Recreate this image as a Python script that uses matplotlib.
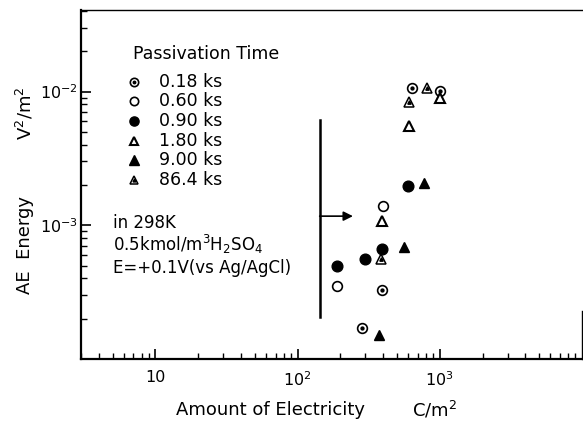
import matplotlib
matplotlib.use("Agg")
import matplotlib.pyplot as plt
from matplotlib.ticker import LogLocator, NullFormatter, FixedLocator, FixedFormatter

plt.rcParams['font.family'] = ['DejaVu Sans']
plt.rcParams['mathtext.fontset'] = 'dejavusans'

# ---- data ----
series_labels = ["0.18 ks", "0.60 ks", "0.90 ks", "1.80 ks", "9.00 ks", "86.4 ks"]
x_018 = [638, 1000, 393, 284]
y_018 = [1.06e-2, 1.01e-2, 3.3e-4, 1.70e-4]
x_060 = [399, 189]
y_060 = [1.39e-3, 3.5e-4]
x_090 = [593, 395, 297, 189]
y_090 = [1.95e-3, 6.6e-4, 5.55e-4, 5.0e-4]
x_180 = [608, 393, 1000]
y_180 = [5.48e-3, 1.07e-3, 8.9e-3]
x_900 = [774, 557, 372]
y_900 = [2.07e-3, 6.86e-4, 1.52e-4]
x_864 = [819, 608, 388]
y_864 = [1.06e-2, 8.4e-3, 5.64e-4]

xticks = [10, 100, 1000]
xticklabels = ["10", "$10^2$", "$10^3$"]
yticks = [1e-3, 1e-2]
yticklabels = ["$10^{-3}$", "$10^{-2}$"]

fig = plt.figure(figsize=(5.83, 4.22), dpi=100)
ax = fig.add_axes([81/583, 1-359/422, 501/583, 349/422])
ax.set_xscale('log')
ax.set_yscale('log')
ax.set_xlim(3, 1e4)
ax.set_ylim(1e-4, 4.07e-2)

ms = 7
mew = 1.2
def dotted_circle(xs, ys, size=ms, trans=None):
    kw = {} if trans is None else {'transform': trans}
    ax.plot(xs, ys, 'o', ms=size, mfc='white', mec='black', mew=mew, ls='none', clip_on=False, **kw)
    ax.plot(xs, ys, 'o', ms=size*0.3, mfc='black', mec='black', ls='none', clip_on=False, **kw)
def open_circle(xs, ys, size=ms, trans=None):
    kw = {} if trans is None else {'transform': trans}
    ax.plot(xs, ys, 'o', ms=size, mfc='white', mec='black', mew=mew, ls='none', clip_on=False, **kw)
def filled_circle(xs, ys, size=ms, trans=None):
    kw = {} if trans is None else {'transform': trans}
    ax.plot(xs, ys, 'o', ms=size*1.1, mfc='black', mec='black', ls='none', clip_on=False, **kw)
def open_tri(xs, ys, size=ms, trans=None):
    kw = {} if trans is None else {'transform': trans}
    ax.plot(xs, ys, '^', ms=size, mfc='white', mec='black', mew=mew+0.3, ls='none', clip_on=False, **kw)
def filled_tri(xs, ys, size=ms, trans=None):
    kw = {} if trans is None else {'transform': trans}
    ax.plot(xs, ys, '^', ms=size*1.1, mfc='black', mec='black', ls='none', clip_on=False, **kw)
def hatched_tri(xs, ys, size=ms, trans=None):
    kw = {} if trans is None else {'transform': trans}
    ax.plot(xs, ys, '^', ms=size, mfc='white', mec='black', mew=1.1, ls='none', clip_on=False, **kw)
    ax.plot(xs, ys, '^', ms=size*0.35, mfc='black', mec='black', ls='none', clip_on=False, **kw)

drawers = [dotted_circle, open_circle, filled_circle, open_tri, filled_tri, hatched_tri]
data = [(x_018, y_018), (x_060, y_060), (x_090, y_090), (x_180, y_180), (x_900, y_900), (x_864, y_864)]
for d, (xs, ys) in zip(drawers, data):
    d(xs, ys)

# vertical line with arrow
ax.plot([143, 143], [2.05e-4, 6.08e-3], color='black', lw=1.8)
ax.annotate('', xy=(245, 1.17e-3), xytext=(143, 1.17e-3),
            arrowprops=dict(arrowstyle='-|>', color='black', lw=1.2, mutation_scale=14,
                            shrinkA=0, shrinkB=0))

# legend (manual)
fs = 12.5
ax.text(0.104, 0.874, "Passivation Time", transform=ax.transAxes, fontsize=fs, va='center', ha='left')
for i, (d, lab) in enumerate(zip(drawers, series_labels)):
    yy = 0.795 - i * 0.0564
    d([0.106], [yy], size=6, trans=ax.transAxes)
    ax.text(0.156, yy, lab, transform=ax.transAxes, fontsize=fs, va='center', ha='left')

# conditions text
ax.text(0.064, 0.390, "in 298K", transform=ax.transAxes, fontsize=12, va='center', ha='left')
ax.text(0.064, 0.327, "0.5kmol/m$^3$H$_2$SO$_4$", transform=ax.transAxes, fontsize=12, va='center', ha='left')
ax.text(0.064, 0.261, "E=+0.1V(vs Ag/AgCl)", transform=ax.transAxes, fontsize=12, va='center', ha='left')

# ticks
ax.xaxis.set_major_locator(FixedLocator(xticks))
ax.xaxis.set_major_formatter(FixedFormatter(xticklabels))
ax.xaxis.set_minor_locator(LogLocator(base=10, subs=range(2, 10), numticks=20))
ax.xaxis.set_minor_formatter(NullFormatter())
ax.yaxis.set_major_locator(FixedLocator(yticks))
ax.yaxis.set_major_formatter(FixedFormatter(yticklabels))
ax.yaxis.set_minor_locator(LogLocator(base=10, subs=range(2, 10), numticks=20))
ax.yaxis.set_minor_formatter(NullFormatter())
ax.tick_params(which='major', direction='in', length=7, width=1.2, labelsize=11.5)
ax.tick_params(axis='x', which='major', pad=8)
ax.tick_params(axis='y', which='major', pad=2)
ax.tick_params(which='minor', direction='in', length=4, width=1.0)

for s in ['left', 'bottom']:
    ax.spines[s].set_linewidth(1.6)
ax.spines['top'].set_linewidth(1.0)
ax.spines['right'].set_linewidth(1.0)
ax.spines['right'].set_bounds(1e-4, 2.3e-4)

# axis labels
fig.text(271/583, 1-410/422, "Amount of Electricity", fontsize=13, ha='center', va='center')
fig.text(435/583, 1-410/422, "C/m$^2$", fontsize=13, ha='center', va='center')
fig.text(25/583, 1-245/422, "AE  Energy", fontsize=13, ha='center', va='center', rotation=90)
fig.text(25/583, 1-113/422, "V$^2$/m$^2$", fontsize=13, ha='center', va='center', rotation=90)

fig.savefig("out.png", dpi=100)
